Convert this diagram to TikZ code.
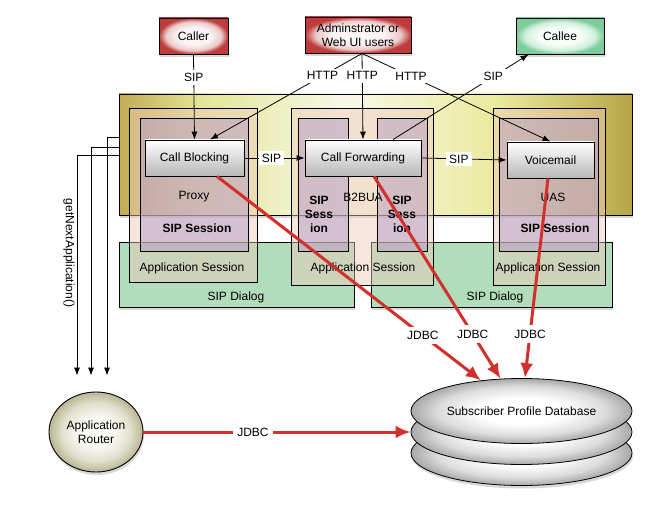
\documentclass[tikz,border=0pt]{standalone}
\usepackage{fontspec}
\setmainfont{Liberation Sans}
\usepackage{xcolor}
\usepackage{tikz}
\usetikzlibrary{
  arrows.meta,
  shapes.geometric,
  positioning,
  shadows,
  calc
}
\definecolor{asRed}{HTML}{C03C3C}
\definecolor{asRedMid}{HTML}{EBCACA}
\definecolor{asRedLight}{HTML}{FBF4F4}
\definecolor{asGreen}{HTML}{7CCD9C}
\definecolor{asGreenMid}{HTML}{CFEFDB}
\definecolor{asGreenLight}{HTML}{F7FDF9}
\definecolor{asDialog}{HTML}{B2DDBA}
\definecolor{asAppSess}{HTML}{EFC8B8}
\definecolor{asSipSess}{HTML}{B59BC6}
\definecolor{asJdbc}{HTML}{D2302C}
\definecolor{asRouter}{HTML}{B8B692}
\definecolor{asRouterMid}{HTML}{E2E1CF}
\definecolor{asRouterLight}{HTML}{F9F9F4}
\definecolor{asDisc}{HTML}{A8A8A8}
\definecolor{asDiscMid}{HTML}{DCDCDC}
\definecolor{asOlive}{HTML}{C2AB55}
\definecolor{asLime}{HTML}{E3E697}
\definecolor{asPale}{HTML}{F8F8E8}
\definecolor{asLimeR}{HTML}{EAEA9E}
\definecolor{asOliveR}{HTML}{B6A547}
\pgfdeclarehorizontalshading{serverglow}{100bp}{color(0bp)=(asOlive); color(25bp)=(asOlive);
  color(33bp)=(asLime); color(47bp)=(asPale); color(62bp)=(asLimeR);
  color(75bp)=(asOliveR); color(100bp)=(asOliveR)}
\pgfdeclareradialshading{redglow}{\pgfpoint{0bp}{0bp}}{color(0bp)=(asRedLight);
  color(12bp)=(asRedLight); color(20bp)=(asRedMid); color(25bp)=(asRed); color(50bp)=(asRed)}
\pgfdeclareradialshading{greenglow}{\pgfpoint{0bp}{0bp}}{color(0bp)=(asGreenLight);
  color(12bp)=(asGreenLight); color(20bp)=(asGreenMid); color(25bp)=(asGreen); color(50bp)=(asGreen)}
\pgfdeclareradialshading{routerglow}{\pgfpoint{0bp}{0bp}}{color(0bp)=(asRouterLight);
  color(9bp)=(asRouterLight); color(18bp)=(asRouterMid); color(25bp)=(asRouter); color(50bp)=(asRouter)}
\pgfdeclareradialshading{discglow}{\pgfpoint{0bp}{0bp}}{color(0bp)=(white);
  color(10bp)=(white); color(19bp)=(asDiscMid); color(25bp)=(asDisc); color(50bp)=(asDisc)}

\begin{document}
\begin{tikzpicture}[x=1pt, y=-1pt, font=\fontsize{12}{14}\selectfont,
  shadowed/.style={drop shadow={opacity=0.3, shadow xshift=1pt, shadow yshift=-3pt}},
  actor/.style={draw, line width=0.9pt, inner sep=0pt, minimum height=36pt, align=center, shadowed},
  caller/.style={actor, shading=redglow},
  callee/.style={actor, shading=greenglow},
  appbox/.style={draw, line width=0.8pt, inner sep=0pt, minimum height=36pt, top color=white, bottom color=black!28},
  appsess/.style={draw, line width=0.7pt, inner sep=0pt, fill=asAppSess, fill opacity=0.45},
  sipsess/.style={draw, line width=0.7pt, inner sep=0pt, fill=asSipSess, fill opacity=0.5},
  dialog/.style={draw, line width=0.8pt, inner sep=0pt, fill=asDialog, shadowed},
  disc/.style={ellipse, draw, line width=0.8pt, minimum width=221pt, minimum height=65pt, shading=discglow},
  sig/.style={-{Latex[length=8pt,width=6pt]}, line width=0.8pt},
  jdbc/.style={-{Latex[length=15pt,width=13pt]}, line width=3pt, draw=asJdbc},
  lbl/.style={fill=white, inner sep=3pt},
  jlbl/.style={fill=white, inner sep=4.5pt}]
  \path[use as bounding box, fill=white] (0,0) rectangle (652,510);

  % users
  \node[caller, minimum width=69pt] (caller) at (193.5,36) {Caller};
  \node[caller, minimum width=106pt] (admin) at (358,35) {Adminstrator or\\Web UI users};
  \node[callee, minimum width=88pt] (callee) at (560,36) {Callee};

  % application server
  \node[draw, line width=0.9pt, minimum width=513pt, minimum height=121pt, shading=serverglow, shadowed] (as) at (375.5,154.5) {};

  % dialogs
  \node[dialog, minimum width=235pt, minimum height=65pt] (dlgl) at (236.5,274.5) {};
  \node[dialog, minimum width=241pt, minimum height=65pt] (dlgr) at (491.5,274.5) {};
  \node (dlgltxt) at (236,297) {SIP Dialog};
  \node (dlgrtxt) at (495,297) {SIP Dialog};

  % application sessions
  \node[appsess, minimum width=128pt, minimum height=174pt] (proxyas) at (193,195) {};
  \node[appsess, minimum width=142pt, minimum height=177pt] (b2bas) at (362,196.5) {};
  \node[appsess, minimum width=112pt, minimum height=177pt] (uasas) at (549,196.5) {};

  % sip sessions
  \node[sipsess, minimum width=108pt, minimum height=133pt] (proxyss) at (194,184.5) {};
  \node[sipsess, minimum width=50pt, minimum height=133pt] (b2bssl) at (323,184.5) {};
  \node[sipsess, minimum width=50pt, minimum height=133pt] (b2bssr) at (402,184.5) {};
  \node[sipsess, minimum width=99pt, minimum height=133pt] (uasss) at (548.5,184.5) {};

  % session texts
  \node (proxytxt) at (194,197) {Proxy};
  \node (b2btxt) at (363,197) {B2BUA};
  \node (uastxt) at (553,197) {UAS};
  \node[font=\fontsize{12}{14}\selectfont\bfseries] (proxysstxt) at (197,228) {SIP Session};
  \node[font=\fontsize{12}{14}\selectfont\bfseries, align=center] (b2bssltxt) at (319,214) {SIP\\Sess\\ion};
  \node[font=\fontsize{12}{14}\selectfont\bfseries, align=center] (b2bssrtxt) at (402,214) {SIP\\Sess\\ion};
  \node[font=\fontsize{12}{14}\selectfont\bfseries] (uassstxt) at (555,228) {SIP Session};
  \node (proxyastxt) at (192,268) {Application Session};
  \node (b2bastxt) at (363,268) {Application Session};
  \node (uasastxt) at (548,268) {Application Session};

  % applications
  \node[appbox, minimum width=99pt] (cblock) at (194.5,158) {Call Blocking};
  \node[appbox, minimum width=116pt] (cfwd) at (363,158) {Call Forwarding};
  \node[appbox, minimum width=87pt] (vmail) at (550.5,160) {Voicemail};

  % router and database
  \node[ellipse, draw, line width=0.9pt, minimum width=94pt, minimum height=80pt, align=center,
    shading=routerglow, shadowed] (router) at (96,432) {Application\\Router};
  \node[disc, shadowed] (dbbot) at (521.5,453) {};
  \node[disc] (dbmid) at (521.5,432) {};
  \node[disc] (db) at (521.5,411) {Subscriber Profile Database};

  % signalling
  \draw[sig] (caller.south) -- node[lbl, pos=.27] {SIP} (cblock.north);
  \coordinate (fork) at ([xshift=4pt]admin.south);
  \draw[sig] (fork) -- node[lbl, pos=.26] {HTTP} ([xshift=15.5pt]cblock.north);
  \draw[sig] (fork) -- node[lbl, pos=.26] {HTTP} (cfwd.north);
  \draw[sig] (fork) -- node[lbl, pos=.26] {HTTP} (vmail.north);
  \draw[sig] ([xshift=30pt]cfwd.north) -- node[lbl, pos=.74] {SIP} ([xshift=13pt]callee.south west);
  \draw[sig] (cblock.east) -- node[lbl, pos=.45] {SIP} (cfwd.west);
  \draw[sig] (cfwd.east) -- node[lbl, pos=.44] {SIP} (vmail.west);

  % router calls
  \draw[sig] ([yshift=17.5pt]as.west) -| ([xshift=11pt,yshift=16pt]router.north);
  \draw[sig] ([yshift=7.5pt]as.west) -| ([xshift=-5pt,yshift=16pt]router.north);
  \draw[sig] ([yshift=-0.5pt]as.west) -| ([xshift=-19pt,yshift=16pt]router.north);
  \node[rotate=-90] (nextapp) at (69,253) {getNextApplication()};

  % jdbc
  \draw[jdbc] ([xshift=22.5pt]cblock.south) -- node[jlbl, pos=.78] {JDBC} (db.143);
  \draw[jdbc] ([xshift=11pt]cfwd.south) -- node[jlbl, pos=.78] {JDBC} (db.123);
  \draw[jdbc] ([xshift=-2.5pt]vmail.south) -- node[jlbl, pos=.78] {JDBC} (db.84);
  \draw[jdbc] (router.east) -- node[jlbl, pos=.41] {JDBC} (dbmid.west);
\end{tikzpicture}
\end{document}
